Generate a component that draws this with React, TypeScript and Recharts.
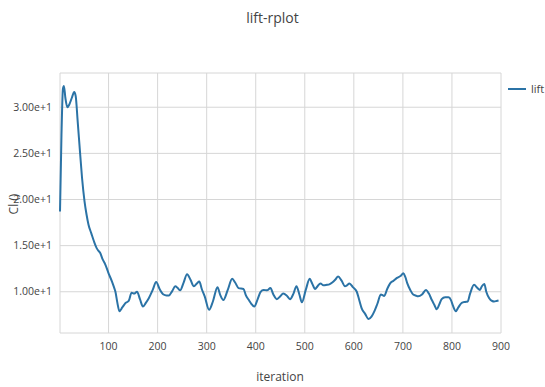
import React from "react";
import { LineChart, Line, XAxis, YAxis, CartesianGrid } from "recharts";

// lift coefficient over the solver iterations
const iterations = [
  1, 4, 7, 9, 12, 16, 20, 25, 30, 33, 37, 42, 46, 51, 55, 59, 65, 70, 76, 80,
  83, 88, 93, 100, 107, 111, 114, 118, 122, 128, 135, 141, 147, 152, 158, 164,
  170, 176, 182, 190, 197, 204, 212, 218, 223, 230, 236, 241, 246, 253, 260,
  267, 274, 280, 285, 290, 296, 305, 313, 322, 328, 334, 343, 352, 358, 365,
  375, 380, 386, 391, 397, 404, 410, 416, 423, 430, 436, 443, 450, 456, 463,
  470, 477, 483, 489, 494, 502, 510, 515, 521, 526, 532, 538, 545, 550, 556,
  562, 568, 575, 582, 586, 591, 598, 606, 611, 616, 623, 630, 636, 642, 648,
  655, 662, 668, 674, 681, 688, 695, 701, 705, 709, 715, 721, 726, 731, 739,
  747, 753, 759, 764, 769, 774, 779, 786, 793, 798, 802, 808, 813, 820, 827,
  832, 837, 845, 852, 857, 861, 866, 870, 876, 882, 886, 891, 895, 900,
];

const lift = [
  18.7, 27.0, 32.0, 32.3, 31.0, 30.0, 30.3, 31.0, 31.65, 31.2, 28.5, 25.0,
  22.3, 19.8, 18.4, 17.3, 16.3, 15.5, 14.7, 14.4, 14.2, 13.5, 13.0, 12.0,
  11.1, 10.5, 10.0, 8.8, 7.9, 8.3, 8.8, 9.0, 9.9, 9.8, 10.0, 9.2, 8.4, 8.8,
  9.3, 10.2, 11.05, 10.3, 9.7, 9.6, 9.6, 10.1, 10.6, 10.4, 10.15, 11.0, 11.9,
  11.3, 10.6, 10.9, 11.1, 10.3, 9.5, 8.05, 9.0, 10.5, 9.6, 9.1, 10.2, 11.4,
  11.0, 10.4, 10.3, 9.6, 9.1, 8.7, 8.4, 9.2, 10.0, 10.2, 10.15, 10.4, 9.7,
  9.2, 9.5, 9.8, 9.6, 9.2, 9.8, 10.6, 9.7, 8.85, 10.2, 11.4, 10.9, 10.3, 10.6,
  10.9, 10.7, 10.75, 10.8, 11.0, 11.3, 11.65, 11.2, 10.6, 10.7, 10.9, 10.5,
  10.0, 9.1, 8.2, 7.6, 7.05, 7.3, 7.9, 8.7, 9.7, 9.55, 10.3, 10.9, 11.2, 11.5,
  11.7, 12.0, 11.6, 10.9, 10.2, 9.7, 9.6, 9.5, 9.7, 10.2, 9.8, 9.1, 8.6, 8.1,
  8.6, 9.2, 9.4, 9.4, 9.1, 8.5, 7.9, 8.3, 8.8, 8.9, 8.95, 9.8, 10.75, 10.4,
  10.2, 10.6, 10.85, 10.0, 9.3, 9.0, 8.95, 9.0, 9.05,
];

const xTicks = [100, 200, 300, 400, 500, 600, 700, 800, 900];
const yTicks = [10, 15, 20, 25, 30];

const data = iterations.map((it, i) => ({ iteration: it, lift: lift[i] }));

const fontFamily = "'Open Sans', sans-serif";
const textColor = "#444";
const lineColor = "#2b73a6";

const fmtExp = (v: number) => {
  const exp = Math.floor(Math.log10(Math.abs(v)));
  const mant = v / Math.pow(10, exp);
  return `${mant.toFixed(2)}e${exp >= 0 ? "+" : ""}${exp}`;
};

export default function App() {
  return (
    <div
      style={{
        position: "absolute",
        left: 0,
        top: 0,
        width: 545,
        height: 387,
        background: "#fff",
        fontFamily,
        overflow: "hidden",
      }}
    >
      <LineChart
        width={545}
        height={387}
        data={data}
        margin={{ top: 73, right: 44, bottom: 24, left: 0 }}
      >
        <CartesianGrid stroke="#d6d6d6" strokeWidth={1} />
        <XAxis
          dataKey="iteration"
          type="number"
          domain={[1, 900]}
          ticks={xTicks}
          axisLine={false}
          tickLine={false}
          tickMargin={4}
          height={30}
          tick={{ fill: textColor, fontSize: 10.5, fontFamily }}
        />
        <YAxis
          type="number"
          domain={[5.53, 33.71]}
          ticks={yTicks}
          tickFormatter={fmtExp}
          axisLine={false}
          tickLine={false}
          width={60}
          tick={{ fill: textColor, fontSize: 10.5, fontFamily }}
        />
        <Line
          type="monotone"
          dataKey="lift"
          stroke={lineColor}
          strokeWidth={2}
          dot={false}
          isAnimationActive={false}
        />
      </LineChart>

      <div
        style={{
          position: "absolute",
          left: 0,
          width: 545,
          top: 8,
          textAlign: "center",
          fontSize: 14,
          color: textColor,
        }}
      >
        lift-rplot
      </div>

      <div
        style={{
          position: "absolute",
          left: 230,
          width: 100,
          top: 368,
          textAlign: "center",
          fontSize: 12,
          color: textColor,
        }}
      >
        iteration
      </div>

      <div
        style={{
          position: "absolute",
          left: -36,
          width: 100,
          top: 197,
          textAlign: "center",
          fontSize: 12,
          lineHeight: "14px",
          color: textColor,
          transform: "rotate(-90deg)",
        }}
      >
        Cl ()
      </div>

      <div
        style={{
          position: "absolute",
          left: 508,
          top: 81,
          display: "flex",
          alignItems: "center",
          fontSize: 11,
          color: textColor,
          whiteSpace: "nowrap",
        }}
      >
        <span
          style={{
            display: "inline-block",
            width: 18,
            height: 2,
            background: lineColor,
            marginRight: 5,
          }}
        />
        lift
      </div>
    </div>
  );
}
